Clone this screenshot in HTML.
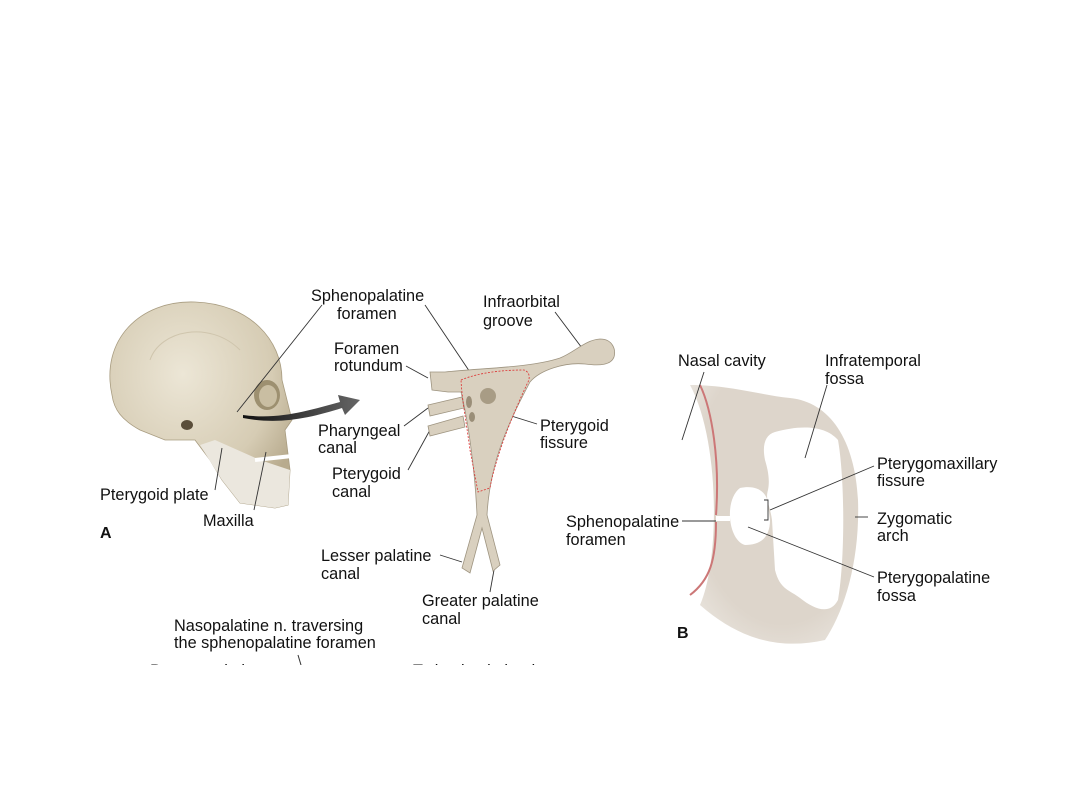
<!DOCTYPE html>
<html><head><meta charset="utf-8"><style>
html,body{margin:0;padding:0;background:#fff;}
body{width:1080px;height:810px;position:relative;overflow:hidden;font-family:"Liberation Sans",Arial,sans-serif;}
svg{position:absolute;left:0;top:0;}
text{font-family:"Liberation Sans",Arial,sans-serif;font-size:16.3px;fill:#111;}
</style></head><body>
<svg width="1080" height="810" viewBox="0 0 1080 810">
<defs>
<clipPath id="clip"><rect x="0" y="0" width="1080" height="665"/></clipPath>
<radialGradient id="sk" cx="0.4" cy="0.35" r="0.7"><stop offset="0" stop-color="#ece6d6"/><stop offset="0.7" stop-color="#d6ccb4"/><stop offset="1" stop-color="#b8ab8e"/></radialGradient>
<linearGradient id="arw" x1="0" x2="1"><stop offset="0" stop-color="#111"/><stop offset="1" stop-color="#666"/></linearGradient>
<radialGradient id="bg" cx="0.55" cy="0.4" r="0.75"><stop offset="0.7" stop-color="#ddd5cb"/><stop offset="1" stop-color="#ece8e2"/></radialGradient>
</defs>
<!-- skull -->
<path d="M112,395 C100,340 140,300 195,302 C250,304 282,340 282,380 L292,420 L285,430 L290,470 L288,505 L275,508 L240,503 L222,480 L210,460 L195,440 L165,440 L140,430 C122,420 114,410 112,395 Z" fill="url(#sk)" stroke="#a89c80" stroke-width="0.8"/>
<path d="M200,445 L222,480 L240,503 L275,508 L288,505 L290,470 L260,460 L215,440 Z" fill="#ebe7de"/>
<ellipse cx="267" cy="395" rx="13" ry="15" fill="#9d9070"/>
<ellipse cx="268" cy="396" rx="9" ry="11" fill="#c9bea2"/>
<path d="M255,460 L292,456" stroke="#fff" stroke-width="4"/>
<ellipse cx="187" cy="425" rx="6" ry="5" fill="#5a4e3a"/>
<path d="M150,360 C160,330 210,320 240,350" stroke="#cfc5ad" fill="none"/>
<!-- arrow -->
<path d="M243,415 C280,420 310,410 340,402 L338,395 L360,400 L345,415 L342,408 C310,418 280,425 243,418 Z" fill="url(#arw)"/>
<!-- leader lines A -->
<g stroke="#333" stroke-width="0.9" fill="none">
<line x1="322" y1="305" x2="237" y2="412"/>
<line x1="215" y1="490" x2="222" y2="448"/>
<line x1="254" y1="510" x2="266" y2="452"/>
<line x1="406" y1="366" x2="428" y2="378"/>
<line x1="425" y1="305" x2="486" y2="396"/>
<line x1="555" y1="312" x2="588" y2="356"/>
<line x1="404" y1="426" x2="428" y2="408"/>
<line x1="408" y1="470" x2="430" y2="430"/>
<line x1="537" y1="424" x2="505" y2="414"/>
<line x1="440" y1="555" x2="462" y2="562"/>
<line x1="490" y1="592" x2="494" y2="570"/>
</g>
<!-- pterygopalatine shape -->
<path d="M430,372 L445,372 C480,368 530,368 560,358 C575,352 585,340 600,339 C613,339 616,350 614,357 C611,365 600,366 585,364 C565,362 540,370 530,382 C510,420 490,460 487,515 L500,565 L493,571 L482,528 L470,573 L462,568 L477,515 C475,470 468,420 461,392 L448,392 L432,390 Z" fill="#d9d0bf" stroke="#9e9480" stroke-width="0.8"/>
<path d="M428,405 L462,397 L464,408 L430,416 Z" fill="#d9d0bf" stroke="#9e9480" stroke-width="0.8"/>
<path d="M428,426 L463,416 L465,427 L430,436 Z" fill="#d9d0bf" stroke="#9e9480" stroke-width="0.8"/>
<path d="M461,380 C480,372 505,370 524,370 C530,372 530,378 528,382 C510,420 495,460 490,488 L478,492 L470,450 C466,420 462,400 461,380 Z" fill="none" stroke="#d33" stroke-width="0.8" stroke-dasharray="2,1.5"/>
<circle cx="488" cy="396" r="8" fill="#a89c85"/>
<ellipse cx="469" cy="402" rx="3" ry="6" fill="#9a8e78"/>
<ellipse cx="472" cy="417" rx="3" ry="5" fill="#9a8e78"/>
<!-- B -->
<path d="M690,385 C730,385 760,395 790,398 C830,402 855,440 858,500 C860,560 845,610 825,640 C780,650 740,640 700,605 C720,560 720,440 690,385 Z" fill="url(#bg)"/>
<path d="M700,385 C712,410 720,460 716,515 M716,522 C716,560 710,580 690,595" stroke="#c77" stroke-width="2" fill="none"/>
<path d="M775,432 C800,425 825,425 838,440 C845,480 845,560 838,600 C830,615 815,610 800,598 C790,590 780,590 775,570 L772,520 C770,505 765,500 768,490 C770,480 768,470 765,460 C762,445 765,435 775,432 Z" fill="#fff"/>
<path d="M740,488 C760,484 768,495 768,505 L770,520 C770,538 760,545 745,545 C728,540 724,500 740,488 Z" fill="#fff"/>
<rect x="716" y="516" width="14" height="5" fill="#fff"/>
<g stroke="#333" stroke-width="0.9" fill="none">
<line x1="704" y1="372" x2="682" y2="440"/>
<line x1="827" y1="385" x2="805" y2="458"/>
<line x1="874" y1="466" x2="770" y2="510"/>
<path d="M764,500 L768,500 L768,520 L764,520"/>
<line x1="682" y1="521" x2="716" y2="521"/>
<line x1="874" y1="577" x2="748" y2="527"/>
<line x1="855" y1="517" x2="868" y2="517"/>
</g>
<!-- labels -->
<g>
<text x="311" y="301">Sphenopalatine</text><text x="337" y="319">foramen</text>
<text x="483" y="307">Infraorbital</text><text x="483" y="326">groove</text>
<text x="334" y="354">Foramen</text><text x="334" y="371">rotundum</text>
<text x="318" y="436">Pharyngeal</text><text x="318" y="453">canal</text>
<text x="540" y="431">Pterygoid</text><text x="540" y="448">fissure</text>
<text x="332" y="479">Pterygoid</text><text x="332" y="497">canal</text>
<text x="100" y="500">Pterygoid plate</text>
<text x="203" y="526">Maxilla</text>
<text x="100" y="538" style="font-weight:bold;font-size:16px">A</text>
<text x="321" y="561">Lesser palatine</text><text x="321" y="579">canal</text>
<text x="422" y="606">Greater palatine</text><text x="422" y="624">canal</text>
<text x="174" y="631">Nasopalatine n. traversing</text><text x="174" y="648">the sphenopalatine foramen</text>
<text x="678" y="366">Nasal cavity</text>
<text x="825" y="366">Infratemporal</text><text x="825" y="384">fossa</text>
<text x="877" y="469">Pterygomaxillary</text><text x="877" y="486">fissure</text>
<text x="566" y="527">Sphenopalatine</text><text x="566" y="545">foramen</text>
<text x="877" y="524">Zygomatic</text><text x="877" y="541">arch</text>
<text x="877" y="583">Pterygopalatine</text><text x="877" y="601">fossa</text>
<text x="677" y="638" style="font-weight:bold;font-size:16px">B</text>
</g>
<g clip-path="url(#clip)">
<text x="150" y="676">Pterygopalatine</text>
<text x="413" y="676">To lacrimal gland</text>
<line x1="298" y1="655" x2="301" y2="665" stroke="#333"/>
</g>
</svg>
</body></html>
